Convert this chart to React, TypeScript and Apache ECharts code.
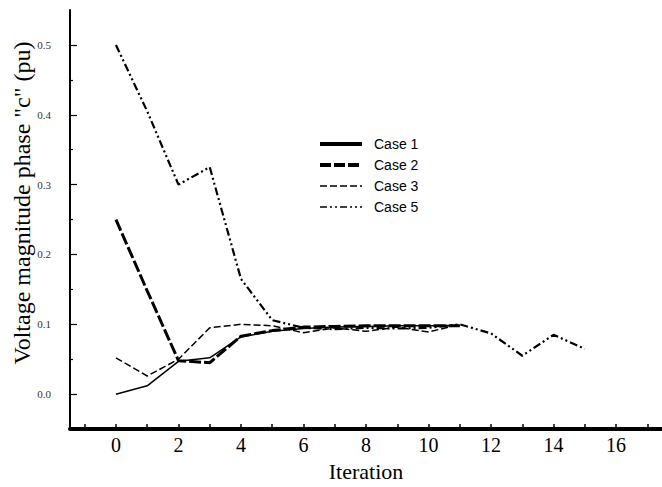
import React, { useEffect, useRef } from "react";
import * as echarts from "echarts";

// Iteration index for each recorded value
const iterations = [0, 1, 2, 3, 4, 5, 6, 7, 8, 9, 10, 11, 12, 13, 14, 15];

// Voltage magnitude of phase "c" (pu) per iteration, one list per case
const case1 = [0.0, 0.012, 0.047, 0.052, 0.082, 0.09, 0.094, 0.096, 0.097, 0.098, 0.098, 0.098];
const case2 = [0.25, 0.148, 0.048, 0.045, 0.083, 0.091, 0.096, 0.097, 0.098, 0.098, 0.098, 0.098];
const case3 = [0.052, 0.026, 0.05, 0.095, 0.1, 0.098, 0.088, 0.095, 0.09, 0.096, 0.089, 0.1];
const case5 = [0.5, 0.405, 0.3, 0.325, 0.165, 0.106, 0.095, 0.093, 0.095, 0.094, 0.095, 0.1, 0.087, 0.055, 0.085, 0.065];

// Axis ticks and labels
const xTickValues = [-1, 0, 1, 2, 3, 4, 5, 6, 7, 8, 9, 10, 11, 12, 13, 14, 15, 16, 17];
const xLabelValues = [0, 2, 4, 6, 8, 10, 12, 14, 16];
const yMajorValues = [0, 0.1, 0.2, 0.3, 0.4, 0.5];
const yMinorValues = [0.05, 0.15, 0.25, 0.35, 0.45];

const serif = "'Liberation Serif', 'Times New Roman', Times, serif";
const sans = "'Liberation Sans', Arial, Helvetica, sans-serif";

const toPoints = (values: number[]) => values.map((v, i) => [iterations[i], v]);

// Legend keys are plain line samples, so the marker drawn on them is hidden
const hiddenMarker = { color: "rgba(0,0,0,0)", borderWidth: 0, opacity: 0 };

export default function App() {
  const ref = useRef<HTMLDivElement>(null);

  useEffect(() => {
    if (!ref.current) return;
    const chart = echarts.init(ref.current, null, { renderer: "svg" });

    const lineSeries = (name: string, values: number[], width: number, type: any) => ({
      name,
      type: "line",
      data: toPoints(values),
      symbol: "none",
      showSymbol: false,
      silent: true,
      lineStyle: { color: "#000", width, type },
      itemStyle: { color: "#000" },
      emphasis: { disabled: true },
    });

    chart.setOption({
      animation: false,
      backgroundColor: "#fff",
      grid: { left: 70, right: 0, top: 10, bottom: 57 },
      xAxis: {
        type: "value",
        min: -1.47,
        max: 17.47,
        splitLine: { show: false },
        axisLine: { onZero: false, lineStyle: { color: "#000", width: 4 } },
        axisTick: {
          inside: true,
          length: 5,
          customValues: xTickValues,
          lineStyle: { color: "#000", width: 1.5 },
        },
        axisLabel: {
          customValues: xLabelValues,
          fontFamily: serif,
          fontSize: 20,
          color: "#000",
          margin: 6,
        },
        name: "Iteration",
        nameLocation: "middle",
        nameGap: 23,
        nameTextStyle: { fontFamily: serif, fontSize: 22, color: "#000" },
      },
      yAxis: [
        {
          type: "value",
          min: -0.05,
          max: 0.55,
          splitLine: { show: false },
          axisLine: { onZero: false, lineStyle: { color: "#000", width: 2 } },
          axisTick: {
            inside: true,
            length: 7,
            customValues: yMajorValues,
            lineStyle: { color: "#000", width: 1.2 },
          },
          axisLabel: {
            customValues: yMajorValues,
            formatter: (v: number) => v.toFixed(1),
            fontFamily: serif,
            fontSize: 11,
            color: "#333",
            margin: 19,
          },
        },
        {
          type: "value",
          min: -0.05,
          max: 0.55,
          position: "left",
          splitLine: { show: false },
          axisLine: { show: false, onZero: false },
          axisTick: {
            inside: true,
            length: 3,
            customValues: yMinorValues,
            lineStyle: { color: "#000", width: 1.2 },
          },
          axisLabel: { show: false },
        },
      ],
      legend: {
        orient: "vertical",
        left: 318,
        top: 137,
        padding: 0,
        itemWidth: 42,
        itemHeight: 12,
        itemGap: 7,
        selectedMode: false,
        itemStyle: hiddenMarker,
        textStyle: { fontFamily: sans, fontSize: 14, color: "#000", padding: [0, 0, 0, 7] },
        data: [
          { name: "Case 1", itemStyle: hiddenMarker, lineStyle: { width: 4, type: "solid" } },
          { name: "Case 2", itemStyle: hiddenMarker, lineStyle: { width: 4, type: [11, 3] } },
          { name: "Case 3", itemStyle: hiddenMarker, lineStyle: { width: 1.5, type: [7, 3] } },
          { name: "Case 5", itemStyle: hiddenMarker, lineStyle: { width: 1.5, type: [7, 3, 2, 3, 2, 3] } },
        ],
      },
      graphic: [
        {
          type: "text",
          x: 22,
          y: 203,
          rotation: Math.PI / 2,
          style: {
            text: 'Voltage magnitude phase "c" (pu)',
            font: `24px ${serif}`,
            fill: "#000",
            align: "center",
            verticalAlign: "middle",
          },
        },
      ],
      series: [
        lineSeries("Case 5", case5, 2.2, [8, 3, 2, 3, 2, 3]),
        lineSeries("Case 3", case3, 1.5, [7, 3]),
        lineSeries("Case 2", case2, 3, [12, 3]),
        lineSeries("Case 1", case1, 1.5, "solid"),
      ],
    });

    return () => chart.dispose();
  }, []);

  return (
    <div
      ref={ref}
      style={{ position: "absolute", left: 0, top: 0, width: 662, height: 487 }}
    />
  );
}
